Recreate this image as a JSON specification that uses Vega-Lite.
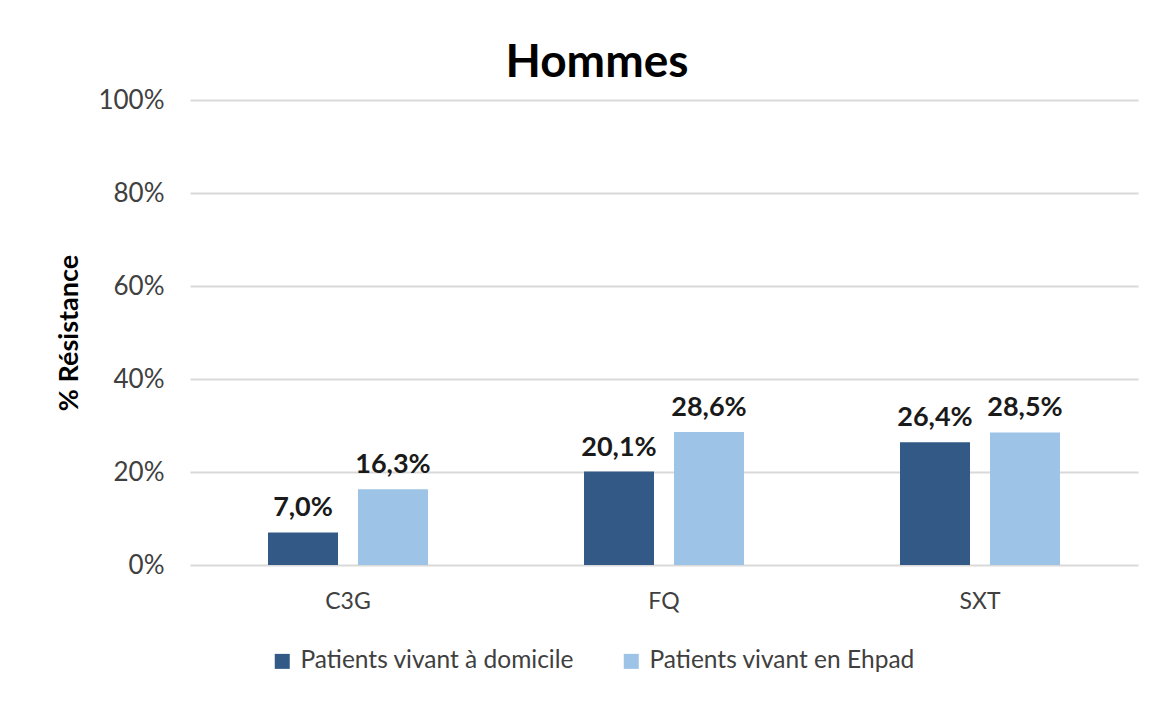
{
  "$schema": "https://vega.github.io/schema/vega-lite/v6.json",
  "autosize": {"type": "none"},
  "width": 948,
  "height": 465,
  "padding": {"left": 190, "top": 100, "right": 37, "bottom": 136},
  "background": "white",
  "config": {
    "font": "Lato",
    "view": {"stroke": null},
    "locale": {"number": {"decimal": ",", "thousands": " ", "grouping": [3], "currency": ["", " €"]}}
  },
  "title": {
    "text": "Hommes",
    "fontSize": 46,
    "fontWeight": "bold",
    "color": "#000000",
    "anchor": "middle",
    "frame": "bounds",
    "offset": 0
  },
  "data": {
    "values": [
      {"classe": "C3G", "groupe": "Patients vivant à domicile", "val": 0.070},
      {"classe": "C3G", "groupe": "Patients vivant en Ehpad", "val": 0.163},
      {"classe": "FQ", "groupe": "Patients vivant à domicile", "val": 0.201},
      {"classe": "FQ", "groupe": "Patients vivant en Ehpad", "val": 0.286},
      {"classe": "SXT", "groupe": "Patients vivant à domicile", "val": 0.264},
      {"classe": "SXT", "groupe": "Patients vivant en Ehpad", "val": 0.285}
    ]
  },
  "encoding": {
    "x": {
      "field": "classe",
      "type": "nominal",
      "sort": ["C3G", "FQ", "SXT"],
      "scale": {"paddingInner": 0, "paddingOuter": 0},
      "axis": {
        "title": null,
        "labelAngle": 0,
        "labelFontSize": 23,
        "labelColor": "#404040",
        "labelPadding": 25,
        "domain": false,
        "ticks": false,
        "grid": false
      }
    },
    "xOffset": {
      "field": "groupe",
      "type": "nominal",
      "sort": ["Patients vivant à domicile", "Patients vivant en Ehpad"],
      "scale": {"paddingInner": 0.222, "paddingOuter": 0.867}
    },
    "y": {
      "field": "val",
      "type": "quantitative",
      "scale": {"domain": [0, 1]},
      "axis": {
        "title": "% Résistance",
        "titleFontSize": 27,
        "titleFontWeight": "bold",
        "titleColor": "#000000",
        "titlePadding": 14,
        "format": ".0%",
        "values": [0, 0.2, 0.4, 0.6, 0.8, 1],
        "labelFontSize": 26,
        "labelColor": "#404040",
        "labelPadding": 26,
        "domain": false,
        "ticks": false,
        "gridColor": "#d9d9d9",
        "gridWidth": 2
      }
    }
  },
  "layer": [
    {
      "mark": {"type": "bar"},
      "encoding": {
        "color": {
          "field": "groupe",
          "type": "nominal",
          "sort": ["Patients vivant à domicile", "Patients vivant en Ehpad"],
          "scale": {"range": ["#335a87", "#9dc3e6"]},
          "legend": {
            "title": null,
            "orient": "none",
            "direction": "horizontal",
            "legendX": 80,
            "legendY": 549,
            "symbolType": "square",
            "symbolSize": 225,
            "symbolStrokeWidth": 0,
            "labelFontSize": 24.5,
            "labelColor": "#404040",
            "labelLimit": 500,
            "columnPadding": 44,
            "labelOffset": 6
          }
        }
      }
    },
    {
      "mark": {"type": "text", "baseline": "bottom", "dy": -10, "fontSize": 27, "fontWeight": "bold", "color": "#1a1a1a"},
      "encoding": {
        "text": {"field": "val", "type": "quantitative", "format": ".1%"}
      }
    }
  ]
}
